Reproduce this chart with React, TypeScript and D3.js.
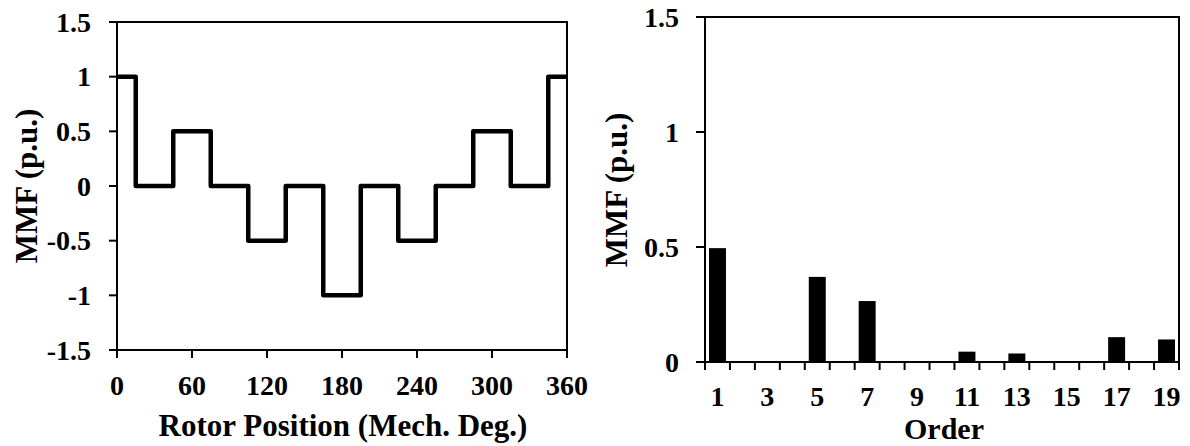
import React from "react";
import * as d3 from "d3";

// rotor position (deg) where each MMF step begins, and its level
const stepAngles = [0, 15, 45, 75, 105, 135, 165, 195, 225, 255, 285, 315, 345, 360];
const stepLevels = [1, 0, 0.5, 0, -0.5, 0, -1, 0, -0.5, 0, 0.5, 0, 1, 1];

const leftXTicks = [0, 60, 120, 180, 240, 300, 360];
const leftYTicks = [1.5, 1, 0.5, 0, -0.5, -1, -1.5];

// harmonic spectrum
const orders = d3.range(1, 20);
const harmonicValues = [0.495, 0, 0, 0, 0.37, 0, 0.265, 0, 0, 0, 0.045, 0, 0.037, 0, 0, 0, 0.108, 0, 0.098];
const orderLabels = [1, 3, 5, 7, 9, 11, 13, 15, 17, 19];
const rightYTicks = [0, 0.5, 1, 1.5];

const font = "'Liberation Serif', 'Times New Roman', serif";

const App = () => {
  // left panel
  const lx = d3.scaleLinear().domain([0, 360]).range([117, 567]);
  const ly = d3.scaleLinear().domain([-1.5, 1.5]).range([350, 22]);
  const stepData = stepAngles.map((a, i) => [a, stepLevels[i]] as [number, number]);
  const stepLine = d3
    .line<[number, number]>()
    .x((d) => lx(d[0]))
    .y((d) => ly(d[1]))
    .curve(d3.curveStepAfter);

  // right panel
  const rx = d3.scaleBand<number>().domain(orders).range([705, 1179]).paddingInner(0.32).paddingOuter(0.16);
  const rxTicks = d3.scaleLinear().domain([0, orders.length]).range([705, 1179]);
  const ry = d3.scaleLinear().domain([0, 1.5]).range([362, 17]);

  return (
    <svg width={1190} height={446} style={{ position: "absolute", left: 0, top: 0 }} fontFamily={font} fontWeight="bold">
      <rect width={1190} height={446} fill="#fff" />

      {/* ---- left: MMF waveform ---- */}
      <g>
        <rect x={117} y={22} width={450} height={328} fill="none" stroke="#000" strokeWidth={2} />
        {leftYTicks.map((t) => (
          <g key={t}>
            <line x1={109} x2={117} y1={ly(t)} y2={ly(t)} stroke="#000" strokeWidth={2} />
            <text x={91} y={ly(t)} dy="0.35em" textAnchor="end" fontSize={28}>
              {t < 0 ? "-" + Math.abs(t) : t}
            </text>
          </g>
        ))}
        {leftXTicks.map((t) => (
          <g key={t}>
            <line x1={lx(t)} x2={lx(t)} y1={350} y2={358} stroke="#000" strokeWidth={2} />
            <text x={lx(t)} y={385} dy="0.35em" textAnchor="middle" fontSize={28}>
              {t}
            </text>
          </g>
        ))}
        <path d={stepLine(stepData) ?? ""} fill="none" stroke="#000" strokeWidth={4.5} strokeLinejoin="round" />
        <text x={343} y={425} dy="0.35em" textAnchor="middle" fontSize={31}>
          Rotor Position (Mech. Deg.)
        </text>
        <text transform="translate(26,186) rotate(-90)" dy="0.35em" textAnchor="middle" fontSize={31}>
          MMF (p.u.)
        </text>
      </g>

      {/* ---- right: harmonic spectrum ---- */}
      <g>
        {orders.map((o, i) => (
          <rect
            key={o}
            x={rx(o)}
            y={ry(harmonicValues[i])}
            width={rx.bandwidth()}
            height={ry(0) - ry(harmonicValues[i])}
            fill="#000"
          />
        ))}
        <rect x={705} y={17} width={474} height={345} fill="none" stroke="#000" strokeWidth={2} />
        {rightYTicks.map((t) => (
          <g key={t}>
            <line x1={696} x2={705} y1={ry(t)} y2={ry(t)} stroke="#000" strokeWidth={2} />
            <text x={679} y={ry(t)} dy="0.35em" textAnchor="end" fontSize={28}>
              {t}
            </text>
          </g>
        ))}
        {d3.range(0, orders.length + 1).map((k) => (
          <line key={k} x1={rxTicks(k)} x2={rxTicks(k)} y1={362} y2={370} stroke="#000" strokeWidth={2} />
        ))}
        {orderLabels.map((o) => (
          <text key={o} x={(rx(o) ?? 0) + rx.bandwidth() / 2} y={396} dy="0.35em" textAnchor="middle" fontSize={28}>
            {o}
          </text>
        ))}
        <text x={944} y={428} dy="0.35em" textAnchor="middle" fontSize={30}>
          Order
        </text>
        <text transform="translate(616,190) rotate(-90)" dy="0.35em" textAnchor="middle" fontSize={31}>
          MMF (p.u.)
        </text>
      </g>
    </svg>
  );
};

export default App;
